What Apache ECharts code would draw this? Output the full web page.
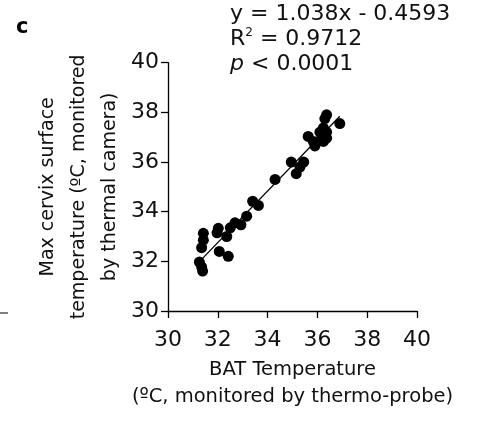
<!DOCTYPE html>
<html>
<head>
<meta charset="utf-8">
<script src="https://cdn.jsdelivr.net/npm/echarts@6/dist/echarts.min.js"></script>
<style>
html,body{margin:0;padding:0;background:#fff;}
#chart{width:480px;height:423px;}
</style>
</head>
<body>
<div id="chart"></div>
<script>
// BAT temperature (x) and max cervix surface temperature (y)
const batTemp = [36.37, 36.3, 36.9, 36.24, 36.1, 36.37, 36.17, 35.63, 36.37, 35.84, 36.24, 35.9,
  34.95, 35.45, 35.3, 35.15, 34.3, 33.4, 33.63, 33.16, 32.93, 32.69, 32.5, 32.02, 31.97, 32.36,
  31.42, 31.42, 31.35, 32.06, 32.42, 31.26, 31.35, 31.39];
const cervixTemp = [37.9, 37.75, 37.55, 37.37, 37.2, 37.2, 37.1, 37.03, 36.96, 36.83, 36.83, 36.65,
  36.0, 36.0, 35.8, 35.53, 35.3, 34.42, 34.25, 33.82, 33.47, 33.55, 33.35, 33.33, 33.15, 33.0,
  33.13, 32.85, 32.55, 32.4, 32.2, 31.97, 31.78, 31.61];
// Regression line y = 1.038x - 0.4593 over the data range
const fitSlope = 1.038;
const fitIntercept = -0.4593;
const fitXRange = [31.26, 36.9];
const xTicks = [30, 32, 34, 36, 38, 40];
const yTicks = [30, 32, 34, 36, 38, 40];

const FONT = '"DejaVu Sans", "Liberation Sans", Arial, sans-serif';
const TXT = '#111';

const points = batTemp.map((x, i) => [x, cervixTemp[i]]);
const fitLine = fitXRange.map(x => [x, fitSlope * x + fitIntercept]);

const chart = echarts.init(document.getElementById('chart'), null, {renderer: 'canvas'});
chart.setOption({
  animation: false,
  backgroundColor: '#fff',
  grid: {left: 168, right: 63, top: 62.7, bottom: 112, containLabel: false},
  xAxis: {
    type: 'value', min: xTicks[0], max: xTicks[xTicks.length - 1], interval: 2,
    name: 'BAT Temperature\n(ºC, monitored by thermo-probe)',
    nameLocation: 'middle', nameGap: 45, nameMoveOverlap: false,
    nameTextStyle: {fontFamily: FONT, fontSize: 19.5, color: TXT, lineHeight: 27},
    axisLine: {show: true, lineStyle: {color: '#000', width: 1.3}},
    axisTick: {show: true, inside: false, length: 7, lineStyle: {color: '#000', width: 1.3}},
    axisLabel: {fontFamily: FONT, fontSize: 22, color: TXT, margin: 18},
    splitLine: {show: false}
  },
  yAxis: {
    type: 'value', min: yTicks[0], max: yTicks[yTicks.length - 1], interval: 2,
    name: 'Max cervix surface\ntemperature (ºC, monitored\nby thermal camera)',
    nameLocation: 'middle', nameGap: 42, nameRotate: 90, nameMoveOverlap: false,
    nameTextStyle: {fontFamily: FONT, fontSize: 19, color: TXT, lineHeight: 31},
    axisLine: {show: true, lineStyle: {color: '#000', width: 1.3}},
    axisTick: {show: true, inside: false, length: 7, lineStyle: {color: '#000', width: 1.3}},
    axisLabel: {fontFamily: FONT, fontSize: 22, color: TXT, margin: 9},
    splitLine: {show: false}
  },
  series: [
    {
      type: 'line', data: fitLine, showSymbol: false, symbol: 'none',
      lineStyle: {color: '#000', width: 1.3}, z: 3, silent: true
    },
    {
      type: 'scatter', data: points, symbol: 'circle', symbolSize: 11,
      itemStyle: {color: '#000', opacity: 1}, z: 2
    }
  ],
  graphic: [
    {type: 'text', left: 16, top: 17, style: {text: 'c', fontFamily: FONT, fontSize: 21, fontWeight: 'bold', fill: '#000'}},
    {type: 'text', left: 230, top: 2, style: {
      text: 'y = 1.038x - 0.4593\nR{sup|2} = 0.9712\n{it|p} < 0.0001',
      fontFamily: FONT, fontSize: 22, fill: TXT, lineHeight: 25,
      rich: {
        sup: {fontFamily: FONT, fontSize: 12, fill: TXT, verticalAlign: 'top', padding: [0, 0, 8, 0], lineHeight: 25},
        it: {fontFamily: FONT, fontSize: 22, fontStyle: 'italic', fill: TXT, lineHeight: 25}
      }
    }},
    {type: 'line', shape: {x1: 0, y1: 313, x2: 8, y2: 313}, style: {stroke: '#000', lineWidth: 1}}
  ]
});
</script>
</body>
</html>
